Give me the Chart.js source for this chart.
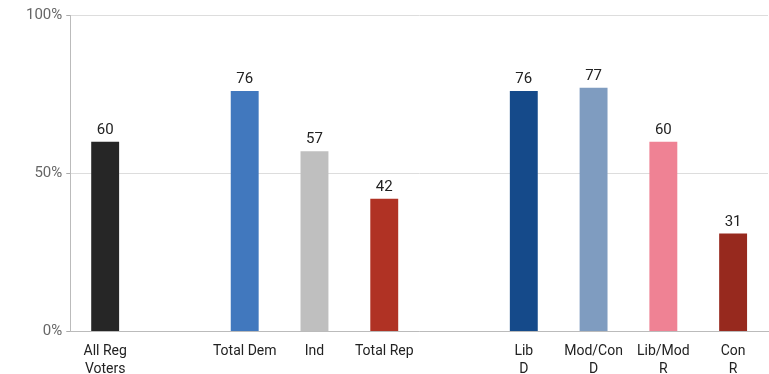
<!DOCTYPE html>
<html>
<head>
<meta charset="utf-8">
<script src="https://cdn.jsdelivr.net/npm/chart.js@4/dist/chart.umd.min.js"></script>
<style>
  body { margin: 0; background: #fff; }
  #wrap { width: 769px; height: 374px; }
</style>
</head>
<body>
<div id="wrap"><canvas id="chart"></canvas></div>
<script>
// categories (blank ones keep the gaps between groups)
const labels = [["All Reg", "Voters"], "", "Total Dem", "Ind", "Total Rep", "", ["Lib", "D"], ["Mod/Con", "D"], ["Lib/Mod", "R"], ["Con", "R"]];
const values = [60, null, 76, 57, 42, null, 76, 77, 60, 31];
const barColors = ["#262626", "#fff", "#4178be", "#bfbfbf", "#b03224", "#fff", "#154a8a", "#7f9cc0", "#ef8294", "#97291e"];
const yTicks = [0, 50, 100];

Chart.defaults.font.family = "Roboto";

// writes the value above each bar
const valueLabels = {
    id: "valueLabels",
    afterDatasetsDraw(chart) {
        const ctx = chart.ctx;
        const meta = chart.getDatasetMeta(0);
        ctx.save();
        ctx.font = "15px Roboto";
        ctx.fillStyle = "#222";
        ctx.textAlign = "center";
        ctx.textBaseline = "bottom";
        meta.data.forEach((bar, i) => {
            if (values[i] === null) return;
            ctx.fillText(values[i], bar.x, bar.y - 4);
        });
        ctx.restore();
    }
};

new Chart("chart", {
    type: "bar",
    data: {
        labels: labels,
        datasets: [{
            data: values,
            backgroundColor: barColors,
            barPercentage: 0.4,
            categoryPercentage: 1
        }]
    },
    options: {
        responsive: true,
        maintainAspectRatio: false,
        animation: false,
        layout: { padding: { top: 15, right: 1, left: 22, bottom: -16 } },
        plugins: {
            legend: { display: false },
            tooltip: { enabled: false }
        },
        scales: {
            x: {
                grid: { display: false, drawTicks: false },
                border: { color: "#bbb" },
                ticks: { color: "#222", font: { size: 14, lineHeight: 1.3 }, maxRotation: 0, autoSkip: false, padding: 11 }
            },
            y: {
                min: 0,
                max: 100,
                afterBuildTicks: axis => { axis.ticks = yTicks.map(v => ({ value: v })); },
                grid: { color: "#ddd", tickLength: 4, tickColor: "#aaa" },
                border: { color: "#bbb" },
                ticks: { color: "#666", font: { size: 15 }, padding: 4, callback: v => v + "%" }
            }
        }
    },
    plugins: [valueLabels]
});
</script>
</body>
</html>
